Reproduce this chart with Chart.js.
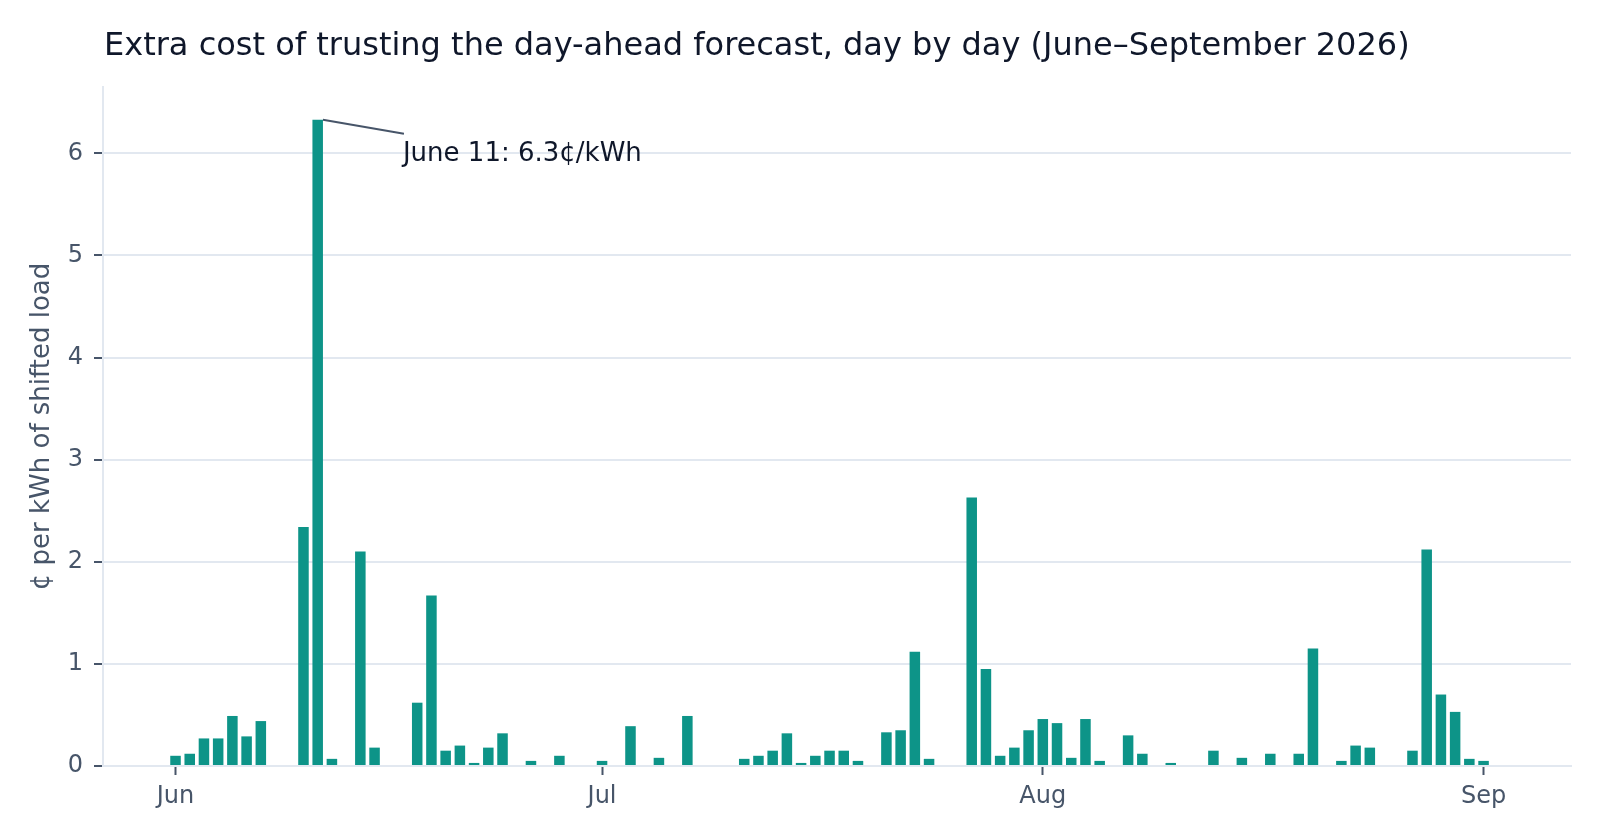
<!DOCTYPE html>
<html>
<head>
<meta charset="utf-8">
<title>Extra cost of trusting the day-ahead forecast</title>
<script src="https://cdn.jsdelivr.net/npm/chart.js@4.4.1/dist/chart.umd.min.js"></script>
<style>
  html, body { margin: 0; padding: 0; background: #ffffff; }
  canvas { display: block; }
</style>
</head>
<body>
<canvas id="costChart" width="1600" height="840"></canvas>
<script>
// daily extra cost, ¢ per kWh of shifted load, June 1 .. September 1 2026
const dailyCost = [
    0.10, 0.12, 0.27, 0.27, 0.49, 0.29, 0.44, 0, 0, 2.34,
    6.33, 0.07, 0.01, 2.10, 0.18, 0, 0, 0.62, 1.67, 0.15,
    0.20, 0.03, 0.18, 0.32, 0, 0.05, 0, 0.10, 0.01, 0,
    0.05, 0.01, 0.39, 0, 0.08, 0, 0.49, 0, 0, 0.01,
    0.07, 0.10, 0.15, 0.32, 0.03, 0.10, 0.15, 0.15, 0.05, 0.01,
    0.33, 0.35, 1.12, 0.07, 0.01, 0.01, 2.63, 0.95, 0.10, 0.18,
    0.35, 0.46, 0.42, 0.08, 0.46, 0.05, 0, 0.30, 0.12, 0,
    0.03, 0, 0.01, 0.15, 0, 0.08, 0, 0.12, 0, 0.12,
    1.15, 0, 0.05, 0.20, 0.18, 0, 0, 0.15, 2.12, 0.70,
    0.53, 0.07, 0.05
];

// day offsets (from June 1) where the month ticks sit
const monthTicks = [0, 30, 61, 92];
const monthLabels = ['Jun', 'Jul', 'Aug', 'Sep'];
const yTicks = [0, 1, 2, 3, 4, 5, 6];

// annotated peak
const peakIndex = 10;
const peakLabel = 'June 11: 6.3¢/kWh';

// calendar dates for each bar
const startDate = new Date(2026, 5, 1);
const days = dailyCost.map((_, i) => {
    const d = new Date(startDate);
    d.setDate(d.getDate() + i);
    return d.toISOString().slice(0, 10);
});

const FONT = '"DejaVu Sans", sans-serif';
const TEXT_DARK = '#0f172a';
const TEXT_MUTED = '#475569';
const GRID = '#e2e8f0';

// 标题（左对齐到绘图区）
const titlePlugin = {
    id: 'leftTitle',
    afterDraw(chart) {
        const ctx = chart.ctx;
        ctx.save();
        ctx.font = '32px ' + FONT;
        ctx.fillStyle = TEXT_DARK;
        ctx.textBaseline = 'alphabetic';
        ctx.textAlign = 'left';
        ctx.fillText('Extra cost of trusting the day-ahead forecast, day by day (June–September 2026)', chart.chartArea.left + 1, 55);
        ctx.restore();
    }
};

// 峰值标注
const peakPlugin = {
    id: 'peakNote',
    afterDatasetsDraw(chart) {
        const bar = chart.getDatasetMeta(0).data[peakIndex];
        if (!bar) return;
        const ctx = chart.ctx;
        const x0 = bar.x + bar.width / 2;
        const y0 = bar.y;
        ctx.save();
        ctx.strokeStyle = TEXT_MUTED;
        ctx.lineWidth = 2;
        ctx.beginPath();
        ctx.moveTo(x0, y0);
        ctx.lineTo(x0 + 81, y0 + 14);
        ctx.stroke();
        ctx.font = '26px ' + FONT;
        ctx.fillStyle = TEXT_DARK;
        ctx.textBaseline = 'alphabetic';
        ctx.fillText(peakLabel, x0 + 80, y0 + 41);
        ctx.restore();
    }
};

const ctx = document.getElementById('costChart').getContext('2d');
new Chart(ctx, {
    type: 'bar',
    data: {
        datasets: [{
            label: 'Extra cost',
            data: dailyCost.map((v, i) => ({ x: i, y: v, date: days[i] })),
            backgroundColor: '#0d9488',
            borderWidth: 0,
            inflateAmount: 0,
            barPercentage: 0.74,
            categoryPercentage: 1
        }]
    },
    options: {
        responsive: false,
        devicePixelRatio: 1,
        animation: false,
        layout: {
            padding: { top: 87, right: 29, bottom: 0, left: 0 }
        },
        plugins: {
            legend: { display: false },
            title: { display: false },
            tooltip: { enabled: false }
        },
        scales: {
            x: {
                type: 'linear',
                offset: false,
                min: -5.1,
                max: 98.15,
                afterBuildTicks: scale => {
                    scale.ticks = monthTicks.map(v => ({ value: v }));
                },
                afterFit: scale => {
                    scale.height = 74;
                },
                ticks: {
                    autoSkip: false,
                    maxRotation: 0,
                    padding: 7,
                    color: TEXT_MUTED,
                    font: { family: FONT, size: 24 },
                    callback: value => monthLabels[monthTicks.indexOf(value)]
                },
                grid: {
                    offset: false,
                    drawOnChartArea: false,
                    tickLength: 9,
                    tickWidth: 2,
                    tickColor: TEXT_MUTED
                },
                border: { color: GRID, width: 2 }
            },
            y: {
                min: 0,
                max: 6.65,
                afterBuildTicks: scale => {
                    scale.ticks = yTicks.map(v => ({ value: v }));
                },
                afterFit: scale => {
                    scale.width = 103;
                },
                ticks: {
                    padding: 11,
                    color: TEXT_MUTED,
                    font: { family: FONT, size: 24 }
                },
                grid: {
                    color: GRID,
                    lineWidth: 2,
                    tickLength: 9,
                    tickWidth: 2,
                    tickColor: TEXT_MUTED
                },
                border: { color: GRID, width: 2 },
                title: {
                    display: true,
                    text: '¢ per kWh of shifted load',
                    color: TEXT_MUTED,
                    font: { family: FONT, size: 26 },
                    padding: { top: 27, bottom: 0 }
                }
            }
        }
    },
    plugins: [titlePlugin, peakPlugin]
});
</script>
</body>
</html>
